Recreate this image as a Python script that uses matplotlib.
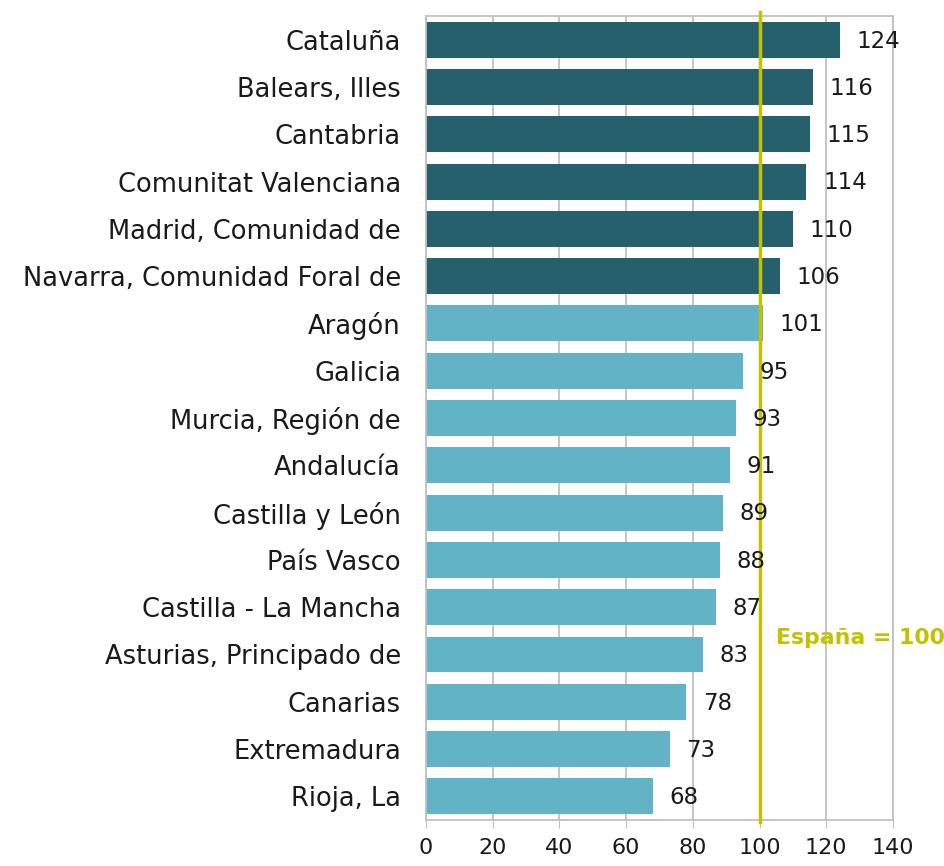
import matplotlib.pyplot as plt
import numpy as np

regions = ["Cataluña", "Balears, Illes", "Cantabria", "Comunitat Valenciana",
           "Madrid, Comunidad de", "Navarra, Comunidad Foral de", "Aragón",
           "Galicia", "Murcia, Región de", "Andalucía", "Castilla y León",
           "País Vasco", "Castilla - La Mancha", "Asturias, Principado de",
           "Canarias", "Extremadura", "Rioja, La"]
values = [124, 116, 115, 114, 110, 106, 101, 95, 93, 91, 89, 88, 87, 83, 78, 73, 68]
n_dark = 6  # regiones por encima de la media, color oscuro
ticks = [0, 20, 40, 60, 80, 100, 120, 140]

dark = "#27606D"
light = "#62B3C6"
olive = "#C2C200"
grid_c = "#C0C0C0"

plt.rcParams['font.family'] = ['DejaVu Sans']

fig = plt.figure(figsize=(9.45, 8.66), dpi=100)
ax = fig.add_axes([0.4508, 0.0531, 0.4942, 0.9284])

y = np.arange(len(regions))
colors = [dark if i < n_dark else light for i in range(len(regions))]
ax.barh(y, values, height=0.76, color=colors, zorder=2)

for yi, v in zip(y, values):
    ax.annotate(str(v), (v, yi), xytext=(12, -1), textcoords="offset points",
                va="center", ha="left", fontsize=16.5, color="#1a1a1a", zorder=4)

ax.axvline(100, color=olive, lw=2.5, ymin=-0.003, ymax=1.005, clip_on=False, zorder=3)
ax.text(105, 12.65, "España = 100", color=olive, fontsize=15.8,
        fontweight="bold", va="center", ha="left", zorder=4)

ax.set_xlim(0, 140)
ax.set_ylim(len(regions) - 0.5, -0.5)
ax.set_xticks(ticks)
ax.set_yticks(y)
ax.set_yticklabels(regions, fontsize=18.5, color="#1a1a1a")
ax.tick_params(axis="y", length=0, pad=18)
ax.tick_params(axis="x", labelsize=16, labelcolor="#1a1a1a", length=6, color=grid_c, pad=7)
ax.xaxis.grid(True, color=grid_c, lw=1.3, zorder=0)
for s in ax.spines.values():
    s.set_color(grid_c)
    s.set_linewidth(1.3)

fig.savefig("out.png", dpi=100)
